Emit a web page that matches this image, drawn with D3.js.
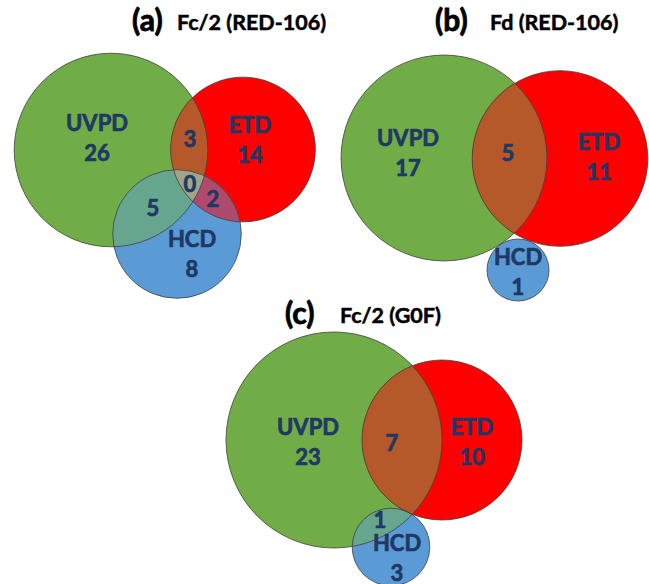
<!DOCTYPE html>
<meta charset="utf-8" />
<script src="https://d3js.org/d3.v7.min.js"></script>
<div id="venn"></div>
<script>
  // data: region counts, order follows regionKeys
  const setNames = ["UVPD", "ETD", "HCD"];
  const regionKeys = ["UVPD", "ETD", "HCD", "UVPD&ETD", "UVPD&HCD", "ETD&HCD", "UVPD&ETD&HCD"];
  const panelTags = ["(a)", "(b)", "(c)"];
  const panelTitles = ["Fc/2 (RED-106)", "Fd (RED-106)", "Fc/2 (G0F)"];
  const countsA = [26, 14, 8, 3, 5, 2, 0];
  const countsB = [17, 11, 1, 5, null, null, null];
  const countsC = [23, 10, 3, 7, 1, null, null];

  const width = 649, height = 584;

  const setColor = { UVPD: "#70AD47", ETD: "#FF0000", HCD: "#5B9BD5" };
  const overlapColor = {
    "UVPD&ETD": "#B5582A",
    "UVPD&HCD": "#67A68E",
    "ETD&HCD": "#B04A6C",
    "UVPD&ETD&HCD": "#A0A58A",
  };
  const textColor = "#203864";

  // layout of each panel (centres, label spots, scale for area-proportional radii)
  const layout = [
    {
      k: 16.6, minR: 0, tag: [132, 31], title: [177, 30],
      centre: { UVPD: [111, 150], ETD: [243, 149.5], HCD: [177, 234] },
      label: { UVPD: [97, 138], ETD: [250, 140], HCD: [192, 254],
        "UVPD&ETD": [190, 139], "UVPD&HCD": [153, 208], "ETD&HCD": [213, 199], "UVPD&ETD&HCD": [190, 184] },
    },
    {
      k: 21.95, minR: 31, tag: [435, 31], title: [490, 30],
      centre: { UVPD: [444, 158], ETD: [560, 158.5], HCD: [518, 270] },
      label: { UVPD: [408, 153.5], ETD: [599, 157], HCD: [518, 272], "UVPD&ETD": [508, 153] },
    },
    {
      k: 19.4, minR: 0, tag: [285, 324], title: [340, 323],
      centre: { UVPD: [334, 440], ETD: [442, 440], HCD: [391, 547] },
      label: { UVPD: [308, 442.5], ETD: [472, 442], HCD: [397, 558], "UVPD&ETD": [392, 443], "UVPD&HCD": [380, 520] },
    },
  ];
  const panelCounts = [countsA, countsB, countsC];

  const svg = d3
    .select("#venn")
    .append("svg")
    .attr("width", width)
    .attr("height", height)
    .style("font-family", "Lato, 'Open Sans', sans-serif")
    .style("font-weight", "bold");

  const defs = svg.append("defs");

  panelCounts.forEach((counts, p) => {
    const L = layout[p];
    const val = {};
    regionKeys.forEach((key, i) => (val[key] = counts[i]));

    // set totals -> radius (area proportional)
    const total = {};
    setNames.forEach((s) => {
      total[s] = d3.sum(regionKeys.filter((key) => key.split("&").includes(s)), (key) => val[key] || 0);
    });
    const r = d3.scaleSqrt().domain([0, 1]).range([0, L.k]);
    const circles = setNames.map((s) => ({
      name: s,
      cx: L.centre[s][0],
      cy: L.centre[s][1],
      r: Math.max(r(total[s]), L.minR),
    }));
    const byName = {};
    circles.forEach((c) => (byName[c.name] = c));

    // clip paths for every circle
    circles.forEach((c) => {
      defs
        .append("clipPath")
        .attr("id", `clip-${p}-${c.name}`)
        .append("circle")
        .attr("cx", c.cx)
        .attr("cy", c.cy)
        .attr("r", c.r);
    });

    const g = svg.append("g");

    // solid circles
    g.selectAll(".set")
      .data(circles)
      .join("circle")
      .attr("cx", (d) => d.cx)
      .attr("cy", (d) => d.cy)
      .attr("r", (d) => d.r)
      .style("fill", (d) => setColor[d.name]);

    // overlaps
    regionKeys
      .filter((key) => key.includes("&") && val[key] !== null)
      .forEach((key) => {
        const parts = key.split("&");
        const last = byName[parts[parts.length - 1]];
        let holder = g;
        parts.slice(0, -1).forEach((s) => {
          holder = holder.append("g").attr("clip-path", `url(#clip-${p}-${s})`);
        });
        holder
          .append("circle")
          .attr("cx", last.cx)
          .attr("cy", last.cy)
          .attr("r", last.r)
          .style("fill", overlapColor[key]);
      });

    // outlines
    g.selectAll(".edge")
      .data(circles)
      .join("circle")
      .attr("cx", (d) => d.cx)
      .attr("cy", (d) => d.cy)
      .attr("r", (d) => d.r)
      .style("fill", "none")
      .style("stroke", "#404040")
      .style("stroke-width", 0.8);

    // labels
    regionKeys
      .filter((key) => val[key] !== null && L.label[key])
      .forEach((key) => {
        const [x, y] = L.label[key];
        const t = g
          .append("text")
          .attr("x", x)
          .attr("y", y)
          .attr("text-anchor", "middle")
          .style("font-size", "22px")
          .style("fill", textColor)
          .style("stroke", textColor)
          .style("stroke-width", 0.7);
        if (!key.includes("&")) {
          t.append("tspan").attr("x", x).attr("dy", "-0.33em").text(key);
          t.append("tspan").attr("x", x).attr("dy", "1.36em").text(val[key]);
        } else {
          t.attr("dy", "0.36em").text(val[key]);
        }
      });

    // titles
    svg
      .append("text")
      .attr("x", L.tag[0])
      .attr("y", L.tag[1])
      .style("font-size", "30px")
      .style("fill", "#000")
      .style("stroke", "#000")
      .style("stroke-width", 0.8)
      .text(panelTags[p]);
    svg
      .append("text")
      .attr("x", L.title[0])
      .attr("y", L.title[1])
      .style("font-size", "21.5px")
      .style("fill", "#000")
      .style("stroke", "#000")
      .style("stroke-width", 0.5)
      .text(panelTitles[p]);
  });
</script>
<style>
  body {
    margin: 0;
    background: white;
  }
</style>
